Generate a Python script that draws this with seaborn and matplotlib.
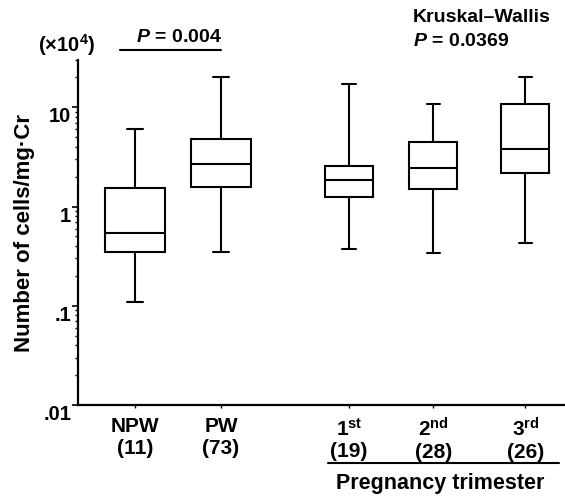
import matplotlib
matplotlib.use("Agg")
import matplotlib.pyplot as plt
import seaborn as sns
import pandas as pd
import numpy as np
from matplotlib.ticker import NullFormatter, LogLocator

# ---- data (x10^4 cells / mg Cr), five-number summaries ----
groups = ["NPW", "PW", "1st", "2nd", "3rd"]
n_sizes = [11, 73, 19, 28, 26]
mins = [0.108, 0.345, 0.374, 0.337, 0.43]
q1s = [0.345, 1.59, 1.25, 1.52, 2.19]
medians = [0.54, 2.66, 1.87, 2.46, 3.77]
q3s = [1.53, 4.75, 2.54, 4.46, 10.9]
maxs = [6.0, 20.4, 17.3, 10.8, 20.4]
tick_names = ["NPW", "PW", r"1$^{\mathrm{st}}$", r"2$^{\mathrm{nd}}$", r"3$^{\mathrm{rd}}$"]
ytick_vals = [0.01, 0.1, 1, 10]
ytick_labels = [".01", ".1", "1", "10"]

# ---- layout ----
group_pos = {"NPW": 1.0, "PW": 2.0, "1st": 3.49, "2nd": 4.47, "3rd": 5.54}

rows = []
for g, a, b, c, d, e in zip(groups, mins, q1s, medians, q3s, maxs):
    for v in (a, b, c, d, e):
        rows.append({"group": g, "pos": group_pos[g], "value": v})
df = pd.DataFrame(rows)

sns.set_theme(style="ticks")
plt.rcParams["font.family"] = ["Liberation Sans", "DejaVu Sans"]
plt.rcParams["font.weight"] = "bold"
plt.rcParams["text.color"] = "black"
plt.rcParams["axes.labelcolor"] = "black"
plt.rcParams["xtick.color"] = "black"
plt.rcParams["ytick.color"] = "black"
plt.rcParams["axes.edgecolor"] = "black"
plt.rcParams["mathtext.fontset"] = "custom"
plt.rcParams["mathtext.rm"] = "Liberation Sans:bold"
plt.rcParams["mathtext.it"] = "Liberation Sans:bold:italic"
plt.rcParams["mathtext.bf"] = "Liberation Sans:bold"

fig = plt.figure(figsize=(5.65, 5.0), dpi=100)
ax = fig.add_axes([78 / 565, 95 / 500, 487 / 565, 345 / 500])

common = dict(x="pos", y="value", native_scale=True, orient="x",
              log_scale=(False, True), whis=(0, 100), color="white",
              linecolor="black", linewidth=1.5, showfliers=False, ax=ax)
sns.boxplot(data=df[df["group"].isin(["NPW", "PW"])], width=0.70, **common)
sns.boxplot(data=df[df["group"].isin(["1st", "2nd", "3rd"])], width=0.57, **common)

# narrow the whisker caps
ends = set(np.round(np.log10(mins + maxs), 4))
for ln in ax.lines:
    xd = np.asarray(ln.get_xdata(), float)
    yd = np.asarray(ln.get_ydata(), float)
    if len(xd) == 2 and yd[0] == yd[1] and np.round(np.log10(yd[0]), 4) in ends:
        c = xd.mean()
        hw = 0.09 if c < 2.5 else 0.08
        ln.set_xdata([c - hw, c + hw])

ax.set_ylim(0.01, 30)
ax.set_xlim(0.337, 6.0)
ax.set_yticks(ytick_vals)
ax.set_yticklabels(ytick_labels)
ax.yaxis.set_minor_locator(LogLocator(base=10, subs=np.arange(2, 10)))
ax.yaxis.set_minor_formatter(NullFormatter())
for lab in ax.get_yticklabels():
    lab.set_verticalalignment("top")
ax.tick_params(axis="y", which="major", length=4, width=1.2, pad=1, labelsize=14.5)
ax.tick_params(axis="y", which="minor", length=2, width=1.0)

ax.set_xticks([group_pos[g] for g in groups])
ax.set_xticklabels([f"{t}\n({n})" for t, n in zip(tick_names, n_sizes)], fontsize=15, linespacing=1.15)
ax.tick_params(axis="x", length=2, width=1.0, pad=7)
ax.set_xlabel("")
ax.set_ylabel("Number of cells/mg\u00b7Cr", fontsize=16, fontweight="bold")
ax.yaxis.set_label_coords((35 - 78) / 487, (405 - 232.5) / 345)

for s in ["top", "right"]:
    ax.spines[s].set_visible(False)
for s in ["left", "bottom"]:
    ax.spines[s].set_linewidth(1.6)

# annotations
fig.text(38 / 565, 1 - 45 / 500, r"(×10$^{4}$)", fontsize=14.5, fontweight="bold", va="center", ha="left")
fig.text(179 / 565, 1 - 37 / 500, r"$P$ = 0.004", fontsize=14, fontweight="bold", va="center", ha="center")
fig.add_artist(plt.Line2D([120 / 565, 221 / 565], [1 - 49.5 / 500] * 2, color="black", lw=1.5))
fig.text(413 / 565, 1 - 17 / 500, "Kruskal\u2013Wallis", fontsize=14, fontweight="bold", va="center", ha="left")
fig.text(413 / 565, 1 - 42 / 500, r"$P$ = 0.0369", fontsize=14, fontweight="bold", va="center", ha="left")
fig.add_artist(plt.Line2D([328 / 565, 559 / 565], [1 - 463 / 500] * 2, color="black", lw=1.5))
fig.text(440 / 565, 1 - 483 / 500, "Pregnancy trimester", fontsize=15.5, fontweight="bold", va="center", ha="center")

fig.savefig("out.png", dpi=100)
